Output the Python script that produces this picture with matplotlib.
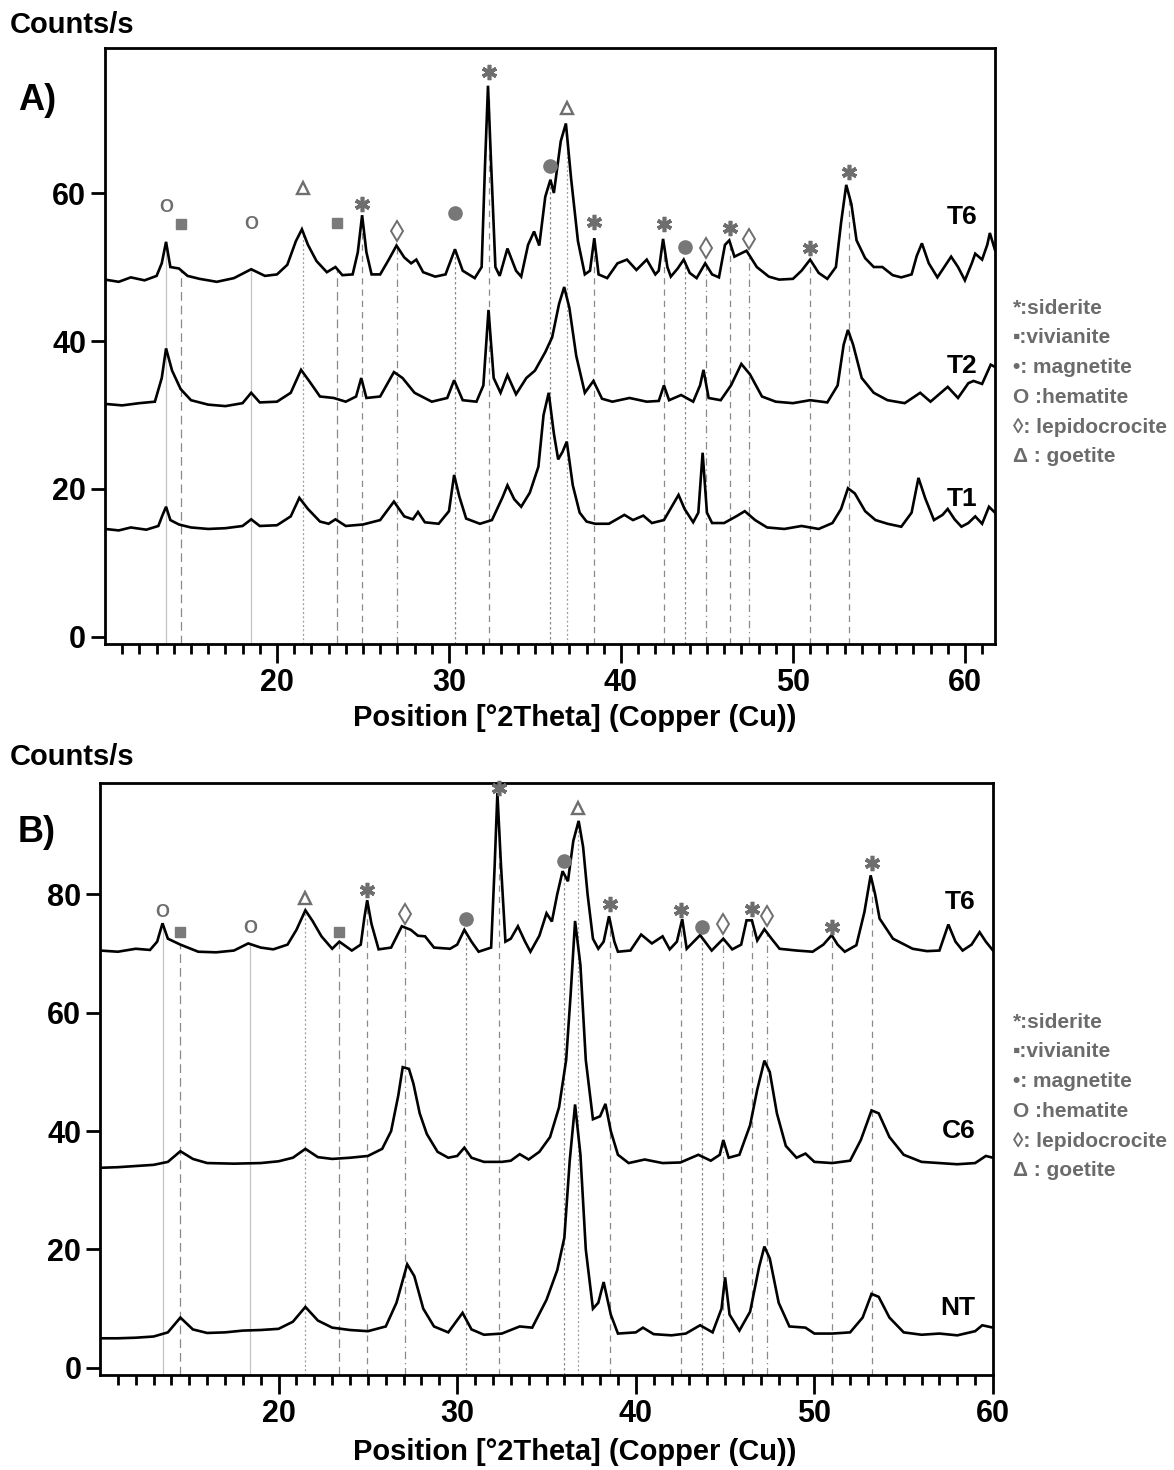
import matplotlib
matplotlib.use('Agg')
import matplotlib.pyplot as plt
import numpy as np

plt.rcParams['font.family'] = ['Liberation Sans', 'DejaVu Sans']
plt.rcParams['font.weight'] = 'bold'

# ---------------- panel A data (2theta, counts/s) ----------------
a_t6_x = [10.0, 10.8, 11.5, 12.3, 13.0, 13.3, 13.55, 13.8, 14.3, 14.8, 15.5, 16.5, 17.5, 18.5, 19.3, 20.0,
          20.6, 21.1, 21.45, 21.8, 22.3, 22.9, 23.4, 23.8, 24.4, 24.7, 24.95, 25.2, 25.5, 26.0, 26.5, 26.95,
          27.4, 27.8, 28.1, 28.5, 29.2, 29.8, 30.35, 30.8, 31.5, 31.9, 32.1, 32.27, 32.45, 32.7, 32.95, 33.4,
          33.9, 34.2, 34.6, 34.95, 35.25, 35.6, 35.9, 36.1, 36.5, 36.8, 37.1, 37.5, 37.9, 38.2, 38.45, 38.7,
          39.2, 39.8, 40.35, 40.9, 41.5, 42.0, 42.2, 42.45, 42.7, 42.9, 43.3, 43.65, 44.0, 44.4, 44.9, 45.3,
          45.7, 46.05, 46.3, 46.6, 47.3, 47.9, 48.6, 49.2, 50.0, 50.5, 51.0, 51.5, 52.0, 52.5, 52.8, 53.1,
          53.4, 53.7, 54.2, 54.7, 55.2, 55.8, 56.3, 56.9, 57.2, 57.5, 57.9, 58.4, 58.8, 59.2, 59.6, 60.0,
          60.4, 60.6, 61.0, 61.3, 61.45, 61.75]
a_t6_y = [48.3, 48.0, 48.6, 48.2, 48.8, 50.5, 53.4, 50.0, 49.8, 48.8, 48.4, 48.0, 48.5, 49.7, 48.8, 49.0,
          50.3, 53.5, 55.1, 53.0, 50.8, 49.3, 50.0, 48.9, 49.0, 52.0, 57.0, 52.0, 49.0, 49.0, 51.0, 52.9,
          51.3, 50.5, 51.0, 49.3, 48.7, 49.0, 52.4, 49.5, 48.5, 50.0, 64.0, 74.5, 64.0, 50.0, 48.8, 52.5,
          49.5, 48.7, 53.0, 54.8, 52.9, 59.5, 61.8, 60.0, 67.0, 69.4, 62.0, 53.5, 49.0, 49.5, 53.9, 49.0,
          48.5, 50.5, 51.0, 49.6, 51.0, 49.0, 49.5, 53.8, 50.0, 48.7, 49.8, 51.0, 49.2, 48.5, 50.5, 49.0,
          48.6, 53.0, 53.6, 51.4, 52.2, 50.0, 48.7, 48.3, 48.4, 49.5, 51.0, 49.2, 48.4, 50.0, 56.0, 61.1,
          58.5, 53.6, 51.2, 50.0, 50.0, 48.9, 48.6, 49.0, 51.5, 53.2, 50.5, 48.6, 50.0, 51.4, 50.0, 48.2,
          50.5, 51.8, 51.0, 53.0, 54.6, 52.3]

a_t2_x = [10.0, 11.0, 12.0, 12.9, 13.3, 13.55, 13.9, 14.4, 15.0, 16.0, 17.0, 18.0, 18.5, 19.0, 20.0, 20.8,
          21.4, 21.9, 22.5, 23.3, 24.0, 24.6, 24.9, 25.2, 26.0, 26.8, 27.3, 28.0, 29.0, 29.9, 30.3, 30.8,
          31.6, 32.0, 32.3, 32.6, 33.0, 33.4, 33.9, 34.5, 35.0, 35.6, 36.0, 36.4, 36.7, 37.0, 37.4, 37.9,
          38.4, 38.9, 39.5, 40.5, 41.5, 42.2, 42.5, 42.8, 43.5, 44.2, 44.6, 44.8, 45.1, 45.8, 46.4, 47.0,
          47.5, 48.2, 49.0, 50.0, 51.0, 52.0, 52.6, 52.95, 53.2, 53.5, 54.0, 54.7, 55.5, 56.5, 57.4, 58.0,
          59.0, 59.6, 60.2, 60.5, 61.0, 61.5, 61.75]
a_t2_y = [31.5, 31.3, 31.6, 31.8, 35.0, 39.0, 36.0, 33.5, 32.0, 31.4, 31.2, 31.6, 33.0, 31.7, 31.8, 33.0,
          36.1, 34.5, 32.5, 32.3, 31.8, 32.5, 35.0, 32.3, 32.5, 35.8, 35.0, 33.0, 31.8, 32.3, 34.7, 32.0,
          31.8, 34.0, 44.2, 35.0, 33.0, 35.4, 32.8, 35.0, 36.0, 38.5, 40.5, 45.0, 47.3, 44.5, 38.0, 33.0,
          34.6, 32.2, 31.8, 32.3, 31.8, 31.9, 34.0, 32.0, 32.7, 31.8, 34.0, 36.1, 32.3, 32.0, 34.0, 36.9,
          35.5, 32.5, 31.8, 31.6, 32.0, 31.7, 34.0, 39.5, 41.5, 39.5, 35.0, 33.0, 32.0, 31.6, 33.0, 31.8,
          33.8, 32.3, 34.3, 34.6, 34.2, 36.8, 36.5]

a_t1_x = [10.0, 10.8, 11.5, 12.4, 13.1, 13.35, 13.55, 13.8, 14.3, 15.0, 16.0, 17.0, 18.0, 18.5, 19.0, 20.0,
          20.8, 21.3, 21.8, 22.5, 23.0, 23.4, 24.0, 25.0, 26.0, 26.8, 27.4, 27.9, 28.2, 28.6, 29.4, 30.0,
          30.3, 30.6, 31.0, 31.8, 32.5, 33.1, 33.4, 33.8, 34.2, 34.7, 35.2, 35.5, 35.8, 36.1, 36.35, 36.6,
          36.85, 37.2, 37.6, 38.0, 38.5, 39.3, 40.2, 40.7, 41.3, 41.8, 42.5, 43.0, 43.35, 43.7, 44.2, 44.5,
          44.75, 45.0, 45.3, 46.0, 46.7, 47.2, 47.8, 48.5, 49.5, 50.5, 51.5, 52.3, 52.8, 53.2, 53.6, 54.2,
          54.8, 55.5, 56.3, 56.9, 57.3, 57.7, 58.2, 58.7, 59.0, 59.4, 59.8, 60.2, 60.6, 61.0, 61.4, 61.75]
a_t1_y = [14.6, 14.4, 14.8, 14.5, 15.0, 16.5, 17.6, 15.8, 15.2, 14.8, 14.6, 14.7, 15.0, 15.9, 15.0, 15.1,
          16.3, 18.8, 17.3, 15.6, 15.3, 15.9, 15.0, 15.2, 15.8, 18.3, 16.3, 15.9, 16.9, 15.5, 15.3, 17.0,
          21.9, 19.0, 16.0, 15.3, 15.8, 18.8, 20.5, 18.6, 17.6, 19.5, 23.0, 30.0, 33.0, 27.5, 24.0, 25.0,
          26.4, 20.5, 16.8, 15.6, 15.3, 15.3, 16.5, 15.8, 16.4, 15.4, 15.8, 17.8, 19.2, 17.3, 15.5, 16.8,
          24.9, 16.8, 15.4, 15.4, 16.3, 17.0, 15.8, 14.8, 14.6, 15.0, 14.6, 15.4, 17.3, 20.1, 19.4, 17.0,
          15.8, 15.3, 14.9, 16.8, 21.5, 18.7, 15.8, 16.5, 17.3, 15.9, 14.9, 15.4, 16.3, 15.3, 17.6, 16.8]

# ---------------- panel B data ----------------
b_t6_x = [10.0, 11.0, 12.0, 12.8, 13.2, 13.5, 13.8, 14.5, 15.5, 16.5, 17.5, 18.3, 19.0, 19.7, 20.5, 21.0,
          21.5, 21.9, 22.4, 23.0, 23.4, 24.1, 24.6, 24.8, 24.96, 25.2, 25.6, 26.3, 26.9, 27.4, 27.8, 28.2,
          28.7, 29.6, 30.0, 30.4, 30.8, 31.2, 31.9, 32.1, 32.25, 32.45, 32.7, 33.0, 33.4, 33.8, 34.1, 34.6,
          35.0, 35.3, 35.6, 35.9, 36.2, 36.5, 36.8, 37.05, 37.3, 37.6, 37.9, 38.2, 38.5, 38.8, 39.0, 39.7,
          40.3, 40.9, 41.5, 41.9, 42.3, 42.6, 42.85, 43.6, 44.25, 44.9, 45.4, 45.9, 46.2, 46.5, 46.8, 47.2,
          47.6, 48.05, 49.0, 49.9, 50.5, 50.97, 51.3, 51.7, 52.35, 52.8, 53.15, 53.4, 53.65, 54.4, 55.5, 56.3,
          57.0, 57.5, 57.9, 58.3, 58.8, 59.25, 59.6, 60.0]
b_t6_y = [70.5, 70.3, 70.8, 70.6, 72.0, 75.1, 72.5, 71.5, 70.3, 70.2, 70.5, 71.7, 71.0, 70.7, 71.5, 74.0,
          77.3, 75.5, 72.9, 70.8, 72.0, 70.5, 71.5, 76.0, 79.0, 75.0, 70.7, 71.0, 74.6, 74.0, 73.0, 72.9,
          71.0, 70.8, 71.5, 74.0, 72.0, 70.3, 71.0, 85.0, 97.1, 85.0, 72.0, 72.5, 74.6, 72.0, 70.3, 73.0,
          76.8, 75.4, 80.0, 83.9, 82.2, 89.0, 92.4, 88.0, 80.0, 72.5, 70.8, 72.0, 76.3, 72.0, 70.3, 70.5,
          73.2, 71.7, 72.9, 70.7, 72.0, 75.8, 70.8, 73.1, 70.5, 72.5, 70.7, 71.5, 75.6, 75.6, 72.2, 74.1,
          72.5, 70.8, 70.5, 70.3, 71.5, 73.1, 71.5, 70.3, 71.4, 77.0, 83.2, 80.0, 75.9, 72.5, 70.8, 70.4,
          70.5, 74.9, 72.0, 70.5, 71.5, 73.6, 72.0, 70.5]

b_c6_x = [10.0, 11.0, 12.0, 13.0, 13.8, 14.5, 15.2, 16.0, 17.5, 19.0, 20.0, 20.8, 21.5, 22.2, 23.0, 24.0,
          25.0, 25.8, 26.3, 26.7, 26.95, 27.3, 27.55, 27.9, 28.3, 28.9, 29.5, 30.0, 30.4, 30.8, 31.5, 32.5,
          33.0, 33.5, 34.0, 34.6, 35.2, 35.7, 36.1, 36.35, 36.6, 36.9, 37.2, 37.6, 38.0, 38.3, 38.6, 39.0,
          39.6, 40.5, 41.5, 42.5, 43.5, 44.2, 44.7, 44.9, 45.2, 45.8, 46.4, 46.8, 47.2, 47.5, 47.9, 48.4,
          49.0, 49.5, 50.0, 51.0, 52.0, 52.6, 53.2, 53.6, 54.2, 55.0, 56.0, 57.0, 58.0, 59.0, 59.6, 60.0]
b_c6_y = [33.8, 33.9, 34.1, 34.3, 34.8, 36.6, 35.3, 34.6, 34.5, 34.6, 34.9, 35.5, 37.0, 35.6, 35.3, 35.5,
          35.8, 37.0, 40.0, 46.0, 50.8, 50.5, 48.0, 43.0, 39.5, 36.5, 35.5, 35.8, 37.2, 35.5, 34.8, 34.8,
          35.0, 36.1, 35.2, 36.5, 39.0, 44.0, 52.0, 63.0, 75.5, 68.0, 52.0, 42.0, 42.5, 44.6, 40.0, 36.0,
          34.6, 35.2, 34.6, 34.7, 36.0, 35.0, 36.0, 38.5, 35.5, 36.0, 41.0, 47.0, 51.9, 50.0, 43.0, 37.5,
          35.5, 36.2, 34.8, 34.6, 35.0, 38.5, 43.5, 43.0, 39.0, 36.0, 34.8, 34.6, 34.4, 34.6, 35.8, 35.5]

b_nt_x = [10.0, 11.0, 12.0, 13.0, 13.8, 14.5, 15.2, 16.0, 17.0, 18.0, 19.0, 20.0, 20.8, 21.5, 22.2, 23.0,
          24.0, 25.0, 26.0, 26.6, 27.2, 27.6, 28.1, 28.7, 29.5, 30.3, 30.8, 31.5, 32.5, 33.5, 34.2, 35.0,
          35.6, 36.0, 36.3, 36.6, 36.9, 37.2, 37.6, 37.9, 38.2, 38.6, 39.0, 40.0, 40.4, 41.0, 42.0, 42.8,
          43.6, 44.3, 44.8, 45.0, 45.25, 45.8, 46.4, 46.9, 47.2, 47.5, 48.0, 48.6, 49.5, 50.0, 51.0, 52.0,
          52.7, 53.2, 53.6, 54.2, 55.0, 56.0, 57.0, 58.0, 59.0, 59.4, 60.0]
b_nt_y = [5.0, 5.0, 5.1, 5.3, 6.0, 8.5, 6.5, 5.9, 6.0, 6.3, 6.4, 6.6, 7.8, 10.3, 8.0, 6.8,
          6.4, 6.2, 7.0, 11.0, 17.5, 15.5, 10.0, 7.0, 6.0, 9.3, 6.5, 5.6, 5.8, 7.0, 6.8, 11.5,
          16.5, 22.0, 35.0, 44.5, 36.0, 20.0, 10.0, 11.0, 14.5, 9.0, 5.8, 6.0, 6.8, 5.7, 5.5, 5.8,
          7.2, 6.0, 10.0, 15.3, 9.0, 6.3, 9.5, 17.0, 20.5, 18.5, 11.0, 7.0, 6.8, 5.8, 5.8, 6.0,
          8.5, 12.5, 12.0, 8.5, 6.0, 5.6, 5.8, 5.5, 6.2, 7.2, 6.8]

# ---------------- phase identification marks ----------------
a_ref_pos = [13.55, 14.4, 18.5, 21.5, 23.5, 24.95, 27.0, 30.35, 32.3, 35.85, 36.85, 38.45, 42.5, 43.7,
             44.95, 46.35, 47.45, 51.0, 53.25]
a_ref_mark_y = [58.0, 55.8, 55.8, 60.7, 55.9, 58.5, 54.9, 57.3, 76.4, 63.6, 71.5, 56.1, 55.8, 52.7,
                52.6, 55.3, 53.8, 52.6, 62.8]
b_ref_pos = [13.5, 14.5, 18.4, 21.5, 23.4, 24.95, 27.1, 30.5, 32.35, 36.0, 36.75, 38.55, 42.55, 43.7,
             44.9, 46.5, 47.35, 51.0, 53.25]
b_ref_mark_y = [77.0, 73.6, 74.2, 79.3, 73.6, 80.7, 76.6, 75.8, 98.0, 85.6, 94.6, 78.3, 77.3, 74.4,
                74.9, 77.5, 76.4, 74.4, 85.3]
ref_phase = ['hematite', 'vivianite', 'hematite', 'goethite', 'vivianite', 'siderite', 'lepidocrocite',
             'magnetite', 'siderite', 'magnetite', 'goethite', 'siderite', 'siderite', 'magnetite',
             'lepidocrocite', 'siderite', 'lepidocrocite', 'siderite', 'siderite']

legend_lines = ['*:siderite', '▪:vivianite', '•: magnetite', 'O :hematite', '◊: lepidocrocite', 'Δ : goetite']

mark_col = '#6e6e6e'
line_style = {'hematite': ('-', '#c4c4c4'), 'vivianite': ((0, (7, 4)), '#8a8a8a'),
              'siderite': ((0, (5, 4)), '#8a8a8a'), 'magnetite': ((0, (2, 2)), '#8a8a8a'),
              'lepidocrocite': ((0, (6, 3, 1, 3)), '#8a8a8a'), 'goethite': ((0, (1.5, 2)), '#9a9a9a')}


def put_mark(ax, x, y, phase):
    if phase == 'siderite':
        ax.plot(x, y, marker=(6, 2, 0), ms=11, mew=2.6, color=mark_col, clip_on=False, zorder=5)
    elif phase == 'vivianite':
        ax.plot(x, y, marker='s', ms=7, color='#7a7a7a', mec='#7a7a7a', clip_on=False, zorder=5)
    elif phase == 'magnetite':
        ax.plot(x, y, marker='o', ms=9.5, color='#777777', mec='#777777', clip_on=False, zorder=5)
    elif phase == 'hematite':
        ax.text(x, y, 'O', fontsize=13, fontweight='bold', color=mark_col, ha='center', va='center', zorder=5)
    elif phase == 'lepidocrocite':
        ax.plot(x, y, marker='d', ms=10, mfc='white', mec=mark_col, mew=1.4, clip_on=False, zorder=5)
    elif phase == 'goethite':
        ax.plot(x, y, marker='^', ms=9, mfc='white', mec=mark_col, mew=1.7, clip_on=False, zorder=5)


def draw_panel(ax, curves, refs, mark_y, xmax, ylim, yticks):
    top_x, top_y = curves[0][0], curves[0][1]
    for pos, my, ph in zip(refs, mark_y, ref_phase):
        ls, col = line_style[ph]
        ytop = np.interp(pos, top_x, top_y)
        ax.plot([pos, pos], [ylim[0], ytop], ls=ls, color=col, lw=0.9, zorder=1)
        put_mark(ax, pos, my, ph)
    for cx, cy, lab, ly in curves:
        ax.plot(cx, cy, color='black', lw=1.9, zorder=3, solid_joinstyle='miter')
        ax.text(xmax - 1.0, ly, lab, fontsize=19, fontweight='bold', ha='right', va='center')
    ax.set_xlim(10, xmax)
    ax.set_ylim(*ylim)
    ax.set_yticks(yticks)
    ax.set_xticks(np.arange(20, xmax + 0.1, 10))
    ax.set_xticks(np.arange(11, xmax + 0.1, 1), minor=True)
    ax.tick_params(axis='both', which='major', direction='out', labelsize=22, width=2)
    ax.tick_params(axis='x', which='major', length=14)
    ax.tick_params(axis='y', which='major', length=10)
    ax.tick_params(axis='x', which='minor', direction='out', length=7, width=2)
    for lbl in ax.get_xticklabels() + ax.get_yticklabels():
        lbl.set_fontweight('bold')
    for s in ax.spines.values():
        s.set_linewidth(2.0)


fig = plt.figure(figsize=(11.74, 14.70), dpi=100)
ax1 = fig.add_axes([105 / 1174, 1 - 644 / 1470, 890 / 1174, 596 / 1470])
ax2 = fig.add_axes([100 / 1174, 1 - 1375 / 1470, 893 / 1174, 592 / 1470])

draw_panel(ax1, [(a_t6_x, a_t6_y, 'T6', 56.8), (a_t2_x, a_t2_y, 'T2', 36.6), (a_t1_x, a_t1_y, 'T1', 18.6)],
           a_ref_pos, a_ref_mark_y, 61.75, (-0.95, 79.6), [0, 20, 40, 60])
draw_panel(ax2, [(b_t6_x, b_t6_y, 'T6', 78.7), (b_c6_x, b_c6_y, 'C6', 40.0), (b_nt_x, b_nt_y, 'NT', 10.2)],
           b_ref_pos, b_ref_mark_y, 60.0, (-1.2, 98.8), [0, 20, 40, 60, 80])

# axis titles and panel letters
for ytxt, ylab in [(25, 718), (757, 1452)]:
    fig.text(10 / 1174, 1 - ytxt / 1470, 'Counts/s', fontsize=21, fontweight='bold', va='center', ha='left')
    fig.text(575 / 1174, 1 - ylab / 1470, 'Position [°2Theta] (Copper (Cu))', fontsize=21,
             fontweight='bold', va='center', ha='center')
fig.text(18 / 1174, 1 - 100 / 1470, 'A)', fontsize=26, fontweight='bold', va='center')
fig.text(18 / 1174, 1 - 833 / 1470, 'B)', fontsize=26, fontweight='bold', va='center')

# phase key beside each panel
for y0 in [308, 1022]:
    for i, txt in enumerate(legend_lines):
        fig.text(1013 / 1174, 1 - (y0 + i * 29.8) / 1470, txt, fontsize=15, fontweight='bold',
                 color='#6b6b6b', va='center', ha='left')

fig.savefig('out.png', dpi=100)
